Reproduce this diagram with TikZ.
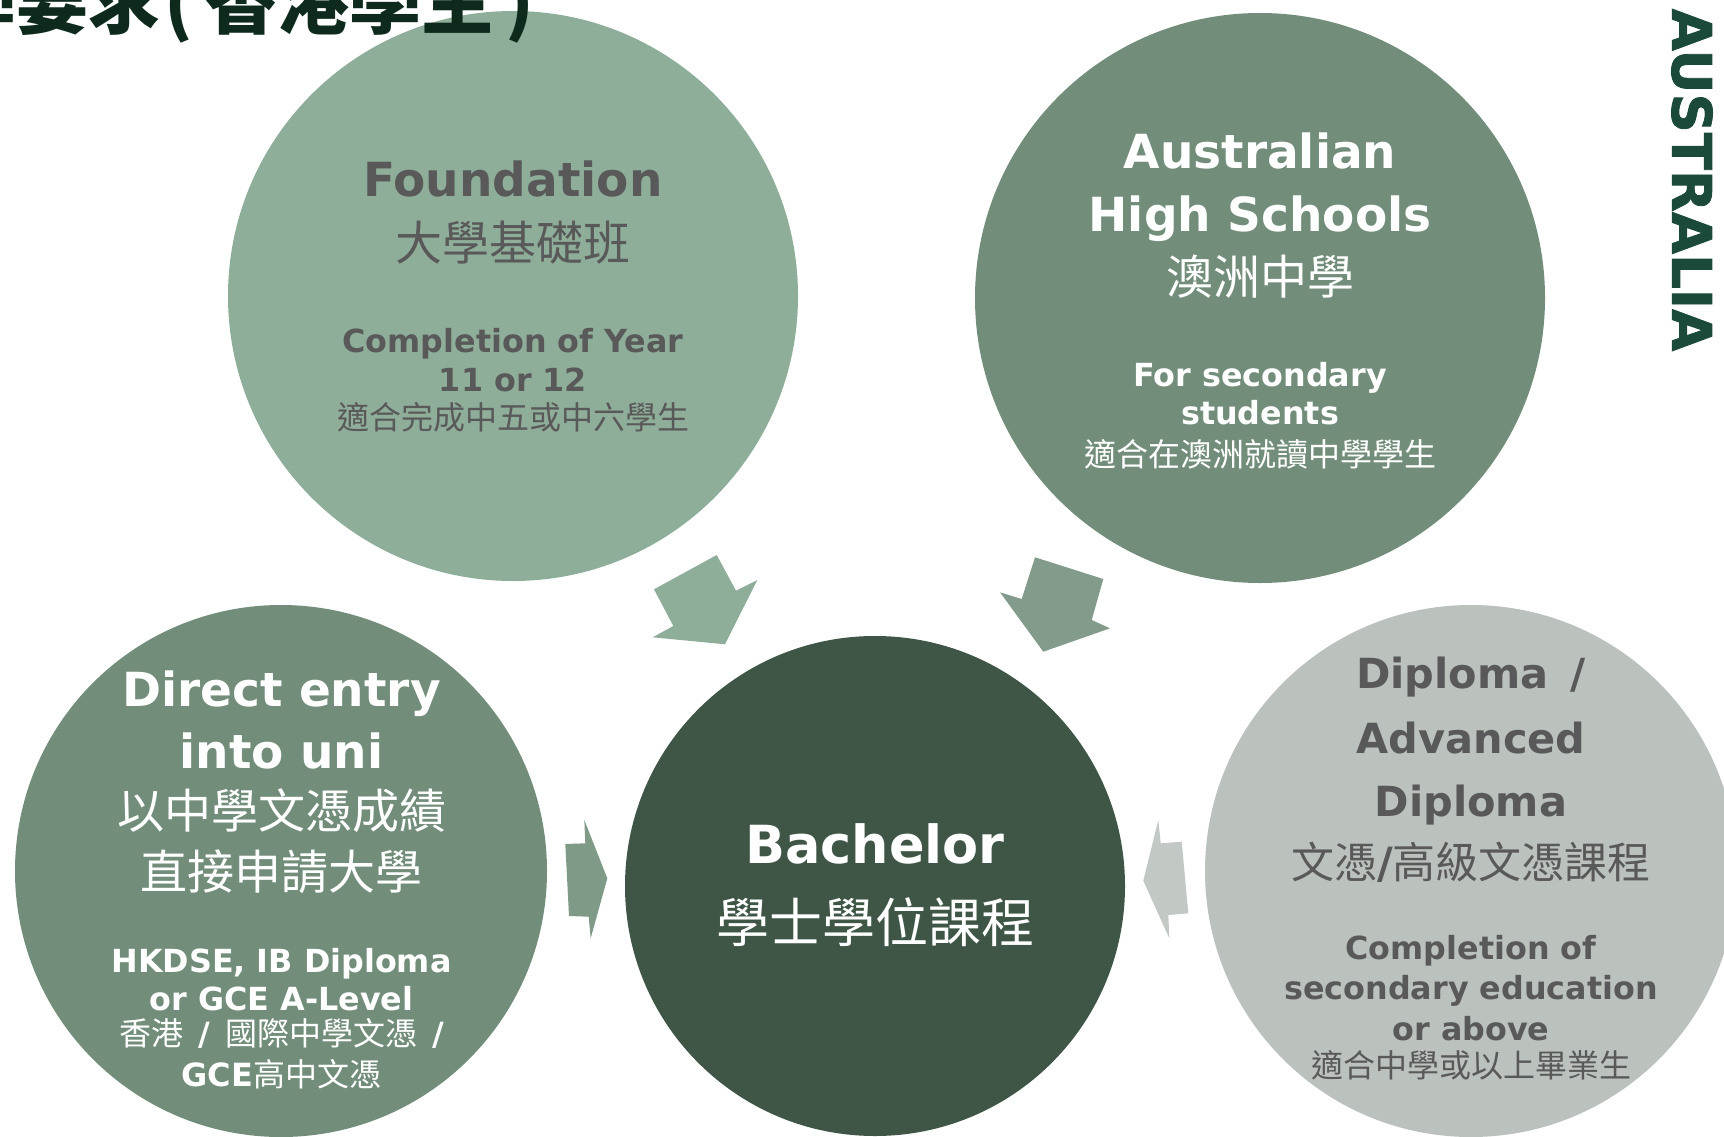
\documentclass[tikz,border=0pt]{standalone}
\usepackage{fontspec}
\usepackage{graphicx}
\setmainfont{DejaVu Sans}
\newfontfamily\cjkfont{Noto Sans CJK TC}
\newfontfamily\heavyfont{DejaVu Sans Bold}[FakeBold=1.5]
\definecolor{cFound}{HTML}{8FAE9A}
\definecolor{cAus}{HTML}{728D7A}
\definecolor{cDirect}{HTML}{728D7A}
\definecolor{cBach}{HTML}{3F5646}
\definecolor{cDipl}{HTML}{BBC2BD}
\definecolor{aTL}{HTML}{8FAE9A}
\definecolor{aTR}{HTML}{839B8A}
\definecolor{aL}{HTML}{7F9A87}
\definecolor{aR}{HTML}{C2C8C3}
\definecolor{greytxt}{HTML}{595959}
\definecolor{ausgreen}{HTML}{1B4A3B}
\definecolor{titlegreen}{HTML}{0E2A1C}
\newcommand{\lat}[1]{{\normalfont\bfseries #1}}
\tikzset{
  disc/.style={circle, draw=none, inner sep=0pt},
  bigtxt/.style={anchor=base, inner sep=0pt, font=\fontsize{47}{56}\selectfont\bfseries},
  bigzh/.style={anchor=base, inner sep=0pt, font=\fontsize{47}{56}\selectfont\cjkfont},
  smalltxt/.style={anchor=base, inner sep=0pt, font=\fontsize{31.8}{38}\selectfont\bfseries},
  smallzh/.style={anchor=base, inner sep=0pt, font=\fontsize{32}{38}\selectfont\cjkfont},
  dipltxt/.style={anchor=base, inner sep=0pt, font=\fontsize{41.5}{50}\selectfont\bfseries},
  diplzh/.style={anchor=base, inner sep=0pt, font=\fontsize{43}{50}\selectfont\cjkfont},
  gtext/.style={text=greytxt},
  wtext/.style={text=white},
}
\begin{document}
\begin{tikzpicture}[x=1pt,y=-1pt]
\fill[white] (0,0) rectangle (1724,1137);
\useasboundingbox (0,0) rectangle (1724,1137);
% circles
\node[disc, fill=cFound, minimum size=570pt] (found) at (513,296) {};
\node[disc, fill=cAus, minimum size=570pt] (aushs) at (1260,298) {};
\node[disc, fill=cDirect, minimum size=532pt] (direct) at (281,871) {};
\node[disc, fill=cBach, minimum size=500pt] (bach) at (875,886) {};
\node[disc, fill=cDipl, minimum size=532pt] (dipl) at (1471,871) {};
% block arrows
\fill[aTL] (654,589.3) -- (716.7,555) -- (736,590.7) -- (757.3,580) -- (725,644.3) -- (652.7,637.3) -- (673.3,626) -- cycle;
\fill[aTR] (1035,557.3) -- (1103.3,579) -- (1091.7,620) -- (1110,628.3) -- (1043.3,651.7) -- (1000,592.3) -- (1021.7,599) -- cycle;
\fill[aL] (565.3,844) -- (585.3,843.3) -- (584.3,820) -- (607.3,878.3) -- (590.7,938.3) -- (588.7,916.7) -- (569,916) -- cycle;
\fill[aR] (1181.7,841.7) -- (1160.7,843.3) -- (1158.3,820) -- (1143.3,880.7) -- (1169.3,938.3) -- (1168.3,915) -- (1188.3,913.3) -- cycle;
% Foundation
\node[bigtxt, gtext] (f1) at (513,196) {Foundation};
\node[bigzh, gtext] (f2) at (513,260) {大學基礎班};
\node[smalltxt, gtext] (f3) at (513,352.5) {Completion of Year};
\node[smalltxt, gtext] (f4) at (513,391.7) {11 or 12};
\node[smallzh, gtext] (f5) at (513,429) {適合完成中五或中六學生};
% Australian High Schools
\node[bigtxt, wtext] (h1) at (1260,168) {Australian};
\node[bigtxt, wtext] (h2) at (1260,231) {High Schools};
\node[bigzh, wtext] (h3) at (1260,294) {澳洲中學};
\node[smalltxt, wtext] (h4) at (1260,386) {For secondary};
\node[smalltxt, wtext] (h5) at (1260,424.5) {students};
\node[smallzh, wtext] (h6) at (1260,466) {適合在澳洲就讀中學學生};
% Direct entry
\node[bigtxt, wtext] (d1) at (281.5,706.7) {Direct entry};
\node[bigtxt, wtext] (d2) at (281.5,768.3) {into uni};
\node[bigzh, wtext] (d3) at (281.5,828.5) {以中學文憑成績};
\node[bigzh, wtext] (d4) at (281.5,889) {直接申請大學};
\node[smalltxt, wtext] (d5) at (281.5,972.7) {HKDSE, IB Diploma};
\node[smalltxt, wtext] (d6) at (281.5,1010) {or GCE A-Level};
\node[smallzh, wtext] (d7) at (281.5,1045) {香港\lat{\hspace{15pt}/\hspace{15pt}}國際中學文憑\lat{\hspace{15pt}/}};
\node[smallzh, wtext] (d8) at (281.5,1086) {\lat{GCE}高中文憑};
% Bachelor
\node[anchor=base, inner sep=0pt, font=\fontsize{52.5}{60}\selectfont\bfseries, wtext] (b1) at (875,863) {Bachelor};
\node[anchor=base, inner sep=0pt, font=\fontsize{53}{60}\selectfont\cjkfont, wtext] (b2) at (875,942) {學士學位課程};
% Diploma
\node[dipltxt, gtext] (p1) at (1471,688) {Diploma\hspace{22pt}/};
\node[dipltxt, gtext] (p2) at (1471,753) {Advanced};
\node[dipltxt, gtext] (p3) at (1471,816) {Diploma};
\node[diplzh, gtext] (p4) at (1471,878) {文憑\lat{/}高級文憑課程};
\node[smalltxt, gtext] (p5) at (1471,959.5) {Completion of};
\node[smalltxt, gtext] (p6) at (1471,999.5) {secondary education};
\node[smalltxt, gtext] (p7) at (1471,1040.5) {or above};
\node[smallzh, gtext] (p8) at (1471,1077) {適合中學或以上畢業生};
% title
\node[anchor=base west, inner sep=0pt, font=\fontsize{72}{80}\selectfont\cjkfont\bfseries, text=titlegreen] (title) at (-128,29) {入學要求\hspace{4pt}(\hspace{13pt}香港學生\hspace{12pt})};
% side label
\node[rotate=-90, inner sep=0pt, font=\fontsize{54.5}{60}\selectfont\heavyfont, text=ausgreen] (auslabel) at (1692,180) {AUSTRALIA};
\end{tikzpicture}
\end{document}
